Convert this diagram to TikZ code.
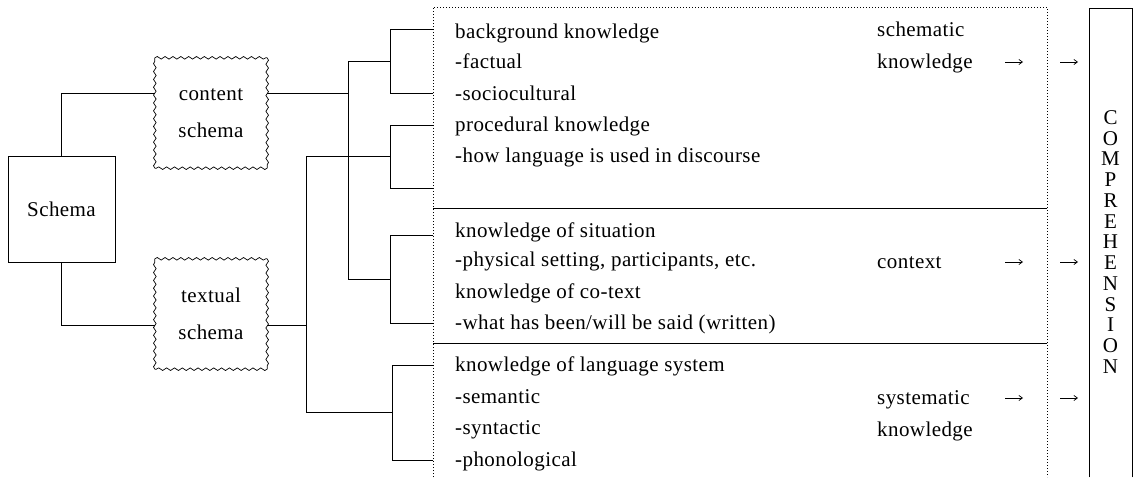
\documentclass[tikz,border=0pt]{standalone}
\usepackage{fontspec}
\setmainfont{Liberation Serif}[LetterSpace=2]
\usetikzlibrary{decorations.pathmorphing,arrows.meta}
\tikzset{
  ln/.style={line width=0.8pt, line cap=rect},
  dotline/.style={line width=0.9pt, dash pattern=on 0.9pt off 2.1pt},
  txt/.style={anchor=base west, inner sep=0pt, font=\fontsize{21}{24}\selectfont},
  wavybox/.style={minimum width=112pt, minimum height=110pt, align=center, inner sep=0pt,
    font=\fontsize{21}{37}\selectfont},
  wavyside/.style={line width=0.7pt, decorate, decoration={snake, amplitude=1.3pt, segment length=7.85pt}},
  arr/.style={line width=0.7pt, -{Straight Barb[length=3.5pt,width=5pt]}},
}
\begin{document}
\begin{tikzpicture}[x=1pt,y=-1pt]
\useasboundingbox (0,0) rectangle (1136,477);

% left boxes
\node[draw, ln, minimum width=107pt, minimum height=106pt, inner sep=0pt,
      font=\fontsize{21}{24}\selectfont] (schema) at (61.5,209) {Schema};
\node[wavybox] (content) at (211,113) {content\\schema};
\node[wavybox] (textual) at (211,314) {textual\\schema};
\foreach \n in {content,textual}{
  \draw[wavyside] (\n.north west) -- (\n.north east);
  \draw[wavyside] (\n.north east) -- (\n.south east);
  \draw[wavyside] (\n.south east) -- (\n.south west);
  \draw[wavyside] (\n.south west) -- (\n.north west);
}

\coordinate (cy) at (0,93);
\coordinate (ty) at (0,325);
\coordinate (cj) at (348,93);
\coordinate (tj) at (306,325);

\draw[ln] (schema.north) |- (content.west |- cy);
\draw[ln] (schema.south) |- (textual.west |- ty);
\draw[ln] (content.east |- cy) -- (cj);
\draw[ln] (textual.east |- ty) -- (tj);

% tree
\coordinate (cjt) at (348,61);
\coordinate (cjb) at (348,279);
\coordinate (tjt) at (306,156);
\coordinate (tjb) at (306,412);
\draw[ln] (cjt) -- (cjb);
\draw[ln] (tjt) -- (tjb);
\draw[ln] (cjt) -- (390,61);
\draw[ln] (cjb) -- (390,279);
\draw[ln] (tjt) -- (390,156);
\draw[ln] (tjb) -- (392,412);

\draw[ln] (433,29) -- (390,29) -- (390,93) -- (433,93);
\draw[ln] (433,125) -- (390,125) -- (390,188) -- (433,188);
\draw[ln] (433,235) -- (390,235) -- (390,323) -- (433,323);
\draw[ln] (433,365) -- (392,365) -- (392,460) -- (433,460);

% knowledge box
\draw[dotline] (433,477) -- (433,7) -- (1047,7) -- (1047,477);
\draw[ln] (433,208) -- (1047,208);
\draw[ln] (433,343) -- (1047,343);

% texts
\node[txt] (r1) at (455,38) {background knowledge};
\node[txt] (r2) at (455,68) {-factual};
\node[txt] (r3) at (455,100) {-sociocultural};
\node[txt] (r4) at (455,131) {procedural knowledge};
\node[txt] (r5) at (455,162) {-how language is used in discourse};
\node[txt] (r6) at (455,237) {knowledge of situation};
\node[txt] (r7) at (455,266) {-physical setting, participants, etc.};
\node[txt] (r8) at (455,298) {knowledge of co-text};
\node[txt] (r9) at (455,329) {-what has been/will be said (written)};
\node[txt] (r10) at (455,371) {knowledge of language system};
\node[txt] (r11) at (455,403) {-semantic};
\node[txt] (r12) at (455,434) {-syntactic};
\node[txt] (r13) at (455,466) {-phonological};

\node[txt] (k1) at (877,36) {schematic};
\node[txt] (k2) at (877,68) {knowledge};
\node[txt] (k3) at (877,268) {context};
\node[txt] (k4) at (877,404) {systematic};
\node[txt] (k5) at (877,436) {knowledge};

% arrows
\coordinate (a1s) at (1005,62); \coordinate (a1e) at (1023,62);
\coordinate (b1s) at (1060,62); \coordinate (b1e) at (1078,62);
\coordinate (a2s) at (1005,262); \coordinate (a2e) at (1023,262);
\coordinate (b2s) at (1060,262); \coordinate (b2e) at (1078,262);
\coordinate (a3s) at (1005,398); \coordinate (a3e) at (1023,398);
\coordinate (b3s) at (1060,398); \coordinate (b3e) at (1078,398);
\draw[arr] (a1s) -- (a1e);
\draw[arr] (b1s) -- (b1e);
\draw[arr] (a2s) -- (a2e);
\draw[arr] (b2s) -- (b2e);
\draw[arr] (a3s) -- (a3e);
\draw[arr] (b3s) -- (b3e);

% comprehension
\draw[ln] (1089,477) -- (1089,8) -- (1132,8) -- (1132,477);
\node[align=center, inner sep=0pt, font=\fontsize{21}{20.75}\selectfont] (comp) at (1110.5,242)
  {C\\O\\M\\P\\R\\E\\H\\E\\N\\S\\I\\O\\N};
\end{tikzpicture}
\end{document}
